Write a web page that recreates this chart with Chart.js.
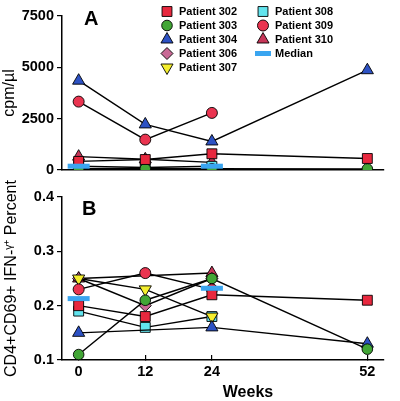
<!DOCTYPE html>
<html>
<head>
<meta charset="utf-8">
<script src="https://cdn.jsdelivr.net/npm/chart.js@4.4.1/dist/chart.umd.min.js"></script>
<style>
  html, body { margin:0; padding:0; background:#fff; }
  body { width:400px; height:401px; position:relative; overflow:hidden; font-family:"Liberation Sans", Arial, Helvetica, sans-serif; color:#000; }
  canvas.chart { position:absolute; left:0; }
  #cA { top:0; }
  #cB { top:165px; }
  .panel { position:absolute; font-weight:bold; font-size:20px; line-height:20px; }
  .leg { position:absolute; height:14px; line-height:14px; font-weight:bold; font-size:11px; white-space:nowrap; }
  .leg canvas { position:absolute; left:0; top:-1px; }
  .leg span { position:absolute; left:12px; top:0; }
  #weeks { position:absolute; left:0; width:496px; text-align:center; top:383px; font-weight:bold; font-size:16px; line-height:18px; }
</style>
</head>
<body>
<canvas id="cA" class="chart" width="400" height="186"></canvas>
<canvas id="cB" class="chart" width="400" height="236"></canvas>
<div class="panel" style="left:84px;top:8px;">A</div>
<div class="panel" style="left:82px;top:198px;">B</div>
<div id="weeks">Weeks</div>
<div id="legend"></div>
<script>
// ---------- data ----------
const weeks = [0, 12, 24, 52];
const seriesNames = ['Patient 302','Patient 303','Patient 304','Patient 306','Patient 307','Patient 308','Patient 309','Patient 310','Median'];

// Panel A: cpm/µl
const cpm302 = [420, 510, 790, 560];
const cpm303 = [60, 60, 60, 50];
const cpm304 = [4350, 2220, 1390, 4860];
const cpm306 = [null, null, null, null];
const cpm307 = [null, null, null, null];
const cpm308 = [180, 120, 180, null];
const cpm309 = [3330, 1480, 2780, null];
const cpm310 = [650, 520, 370, null];
const cpmMedian = [185, null, 185, null];

// Panel B: CD4+CD69+ IFN-γ+ percent
const pct302 = [0.20, 0.18, 0.22, 0.21];
const pct303 = [0.11, 0.21, 0.25, 0.12];
const pct304 = [0.15, null, 0.16, 0.13];
const pct306 = [0.25, 0.20, 0.25, null];
const pct307 = [0.25, 0.23, 0.18, null];
const pct308 = [0.19, 0.16, 0.18, null];
const pct309 = [0.23, 0.26, 0.23, null];
const pct310 = [0.25, null, 0.26, null];
const pctMedian = [0.213, null, 0.232, null];

const cpmTicks = [0, 2500, 5000, 7500];
const pctTicks = [0.1, 0.2, 0.3, 0.4];

// ---------- styles ----------
const styles = {
  'Patient 302': { pointStyle:'rect',     radius:7, rotation:0,   color:'#e8283e' },
  'Patient 303': { pointStyle:'circle',   radius:5.3, rotation:0, color:'#42a636' },
  'Patient 304': { pointStyle:'triangle', radius:7, rotation:0,   color:'#2d52c4' },
  'Patient 306': { pointStyle:'rectRot',  radius:6, rotation:0,   color:'#c96a96' },
  'Patient 307': { pointStyle:'triangle', radius:7, rotation:180, color:'#f4ee2e' },
  'Patient 308': { pointStyle:'rect',     radius:7, rotation:0,   color:'#62e4ee' },
  'Patient 309': { pointStyle:'circle',   radius:5.5, rotation:0, color:'#ea3450' },
  'Patient 310': { pointStyle:'triangle', radius:7, rotation:0,   color:'#c73658' },
  'Median':      { pointStyle:'line',     radius:11, rotation:0,  color:'#3aa5f0' }
};
// drawing order: first = on top
const drawOrder = ['Median','Patient 302','Patient 309','Patient 303','Patient 304','Patient 307','Patient 306','Patient 308','Patient 310'];

function buildDatasets(valuesByName) {
  return drawOrder.map((name, i) => {
    const s = styles[name];
    const vals = valuesByName[name];
    const isMedian = name === 'Median';
    return {
      label: name,
      data: weeks.map((w, k) => ({ x: w, y: vals[k] })),
      order: i,
      showLine: !isMedian,
      spanGaps: true,
      borderColor: '#000',
      borderWidth: 1.4,
      pointStyle: s.pointStyle,
      pointRadius: s.radius,
      pointRotation: s.rotation,
      pointBackgroundColor: s.color,
      pointBorderColor: isMedian ? s.color : '#000',
      pointBorderWidth: isMedian ? 5 : 0.9,
      pointHoverRadius: s.radius
    };
  });
}

const tickFont = { family:'"Liberation Sans", Arial, sans-serif', size:14.5, weight:'bold' };

function xScale(showTicks) {
  return {
    type:'linear', min:-3, max:55,
    afterBuildTicks: sc => { sc.ticks = weeks.map(v => ({ value:v })); },
    ticks: { display: showTicks, color:'#000', font: tickFont, padding: 8, maxRotation:0, autoSkip:false },
    grid: { display: showTicks, drawOnChartArea:false, drawTicks: showTicks, tickLength:-5, color:'#000', lineWidth:1.2 },
    border: { display:true, color:'#000', width:1.5 },
    afterFit: sc => { sc.height = showTicks ? 41 : 14; }
  };
}

function yScale(min, max, tickVals, title, fmt, titlePad) {
  return {
    type:'linear', min:min, max:max,
    afterBuildTicks: sc => { sc.ticks = tickVals.map(v => ({ value:v })); },
    ticks: { color:'#000', font: tickFont, padding:3, callback: fmt },
    grid: { display:true, drawOnChartArea:false, drawTicks:true, tickLength:5, color:'#000', lineWidth:1.2 },
    border: { display:true, color:'#000', width:1.5 },
    title: { display:true, text:title, color:'#000', font:{ family:'"Liberation Sans", Arial, sans-serif', size:16 }, padding:{ top:titlePad, bottom:0 } },
    afterFit: sc => { sc.width = 62; }
  };
}

const commonOpts = {
  responsive:false, animation:false, devicePixelRatio:1,
  plugins:{ legend:{ display:false }, tooltip:{ enabled:false } },
  events: []
};

new Chart(document.getElementById('cA'), {
  type:'scatter',
  data:{ datasets: buildDatasets({
    'Patient 302':cpm302,'Patient 303':cpm303,'Patient 304':cpm304,'Patient 306':cpm306,'Patient 307':cpm307,
    'Patient 308':cpm308,'Patient 309':cpm309,'Patient 310':cpm310,'Median':cpmMedian }) },
  options: Object.assign({}, commonOpts, {
    layout:{ padding:{ top:8, right:2, bottom:0, left:0 } },
    scales:{
      x: xScale(false),
      y: yScale(0, 7500, cpmTicks, 'cpm/µl', v => String(v), 0)
    }
  })
});

new Chart(document.getElementById('cB'), {
  type:'scatter',
  data:{ datasets: buildDatasets({
    'Patient 302':pct302,'Patient 303':pct303,'Patient 304':pct304,'Patient 306':pct306,'Patient 307':pct307,
    'Patient 308':pct308,'Patient 309':pct309,'Patient 310':pct310,'Median':pctMedian }) },
  options: Object.assign({}, commonOpts, {
    layout:{ padding:{ top:32, right:2, bottom:0, left:0 } },
    scales:{
      x: xScale(true),
      y: yScale(0.1, 0.4, pctTicks, 'CD4+CD69+ IFN-ᵞ⁺ Percent', v => v.toFixed(1), 2)
    }
  })
});

// ---------- HTML legend with library-drawn markers ----------
const legendCols = [
  { x:161, names:['Patient 302','Patient 303','Patient 304','Patient 306','Patient 307'] },
  { x:257, names:['Patient 308','Patient 309','Patient 310','Median'] }
];
const legendRowY = [4, 18, 32, 46, 60];
const legend = document.getElementById('legend');
legendCols.forEach(col => {
  col.names.forEach((name, r) => {
    const item = document.createElement('div');
    item.className = 'leg';
    item.style.left = col.x + 'px';
    item.style.top = legendRowY[r] + 'px';
    const c = document.createElement('canvas');
    c.width = 16; c.height = 16;
    c.style.left = '-2px';
    const sp = document.createElement('span');
    sp.textContent = name;
    sp.style.left = name === 'Median' ? '18px' : '18px';
    item.appendChild(c); item.appendChild(sp);
    legend.appendChild(item);
    const ctx = c.getContext('2d');
    const s = styles[name];
    if (name === 'Median') {
      ctx.fillStyle = s.color;
      ctx.fillRect(0, 6, 16, 5);
    } else {
      ctx.fillStyle = s.color;
      ctx.strokeStyle = '#000';
      ctx.lineWidth = 0.9;
      Chart.helpers.drawPoint(ctx, { pointStyle:s.pointStyle, rotation:s.rotation, radius:s.radius, borderWidth:0.9 }, 8, 8.5);
    }
  });
});
</script>
</body>
</html>
